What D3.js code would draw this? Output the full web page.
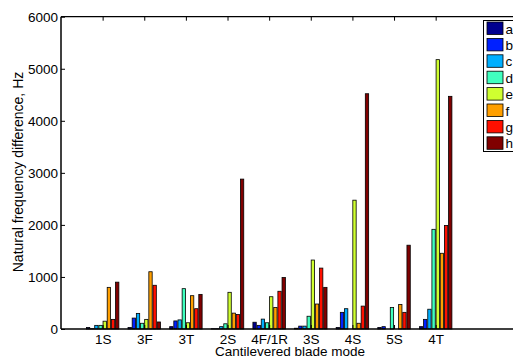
<!DOCTYPE html>
<html>
<head>
<meta charset="utf-8">
<script src="https://cdn.jsdelivr.net/npm/d3@7"></script>
<style>
  html, body { margin: 0; padding: 0; background: #fff; }
  svg { display: block; font-family: "Liberation Sans", Arial, sans-serif; }
</style>
</head>
<body>
<svg id="chart" width="513" height="358"></svg>
<script>
// ---- data ----
const categories = ["1S", "3F", "3T", "2S", "4F/1R", "3S", "4S", "5S", "4T"];
const seriesNames = ["a", "b", "c", "d", "e", "f", "g", "h"];
const seriesA = [30, 30, 45, 5, 130, 15, 30, 30, 45];
const seriesB = [5, 210, 155, 5, 70, 55, 320, 45, 185];
const seriesC = [70, 300, 175, 45, 190, 55, 390, 0, 380];
const seriesD = [70, 110, 775, 100, 120, 245, 0, 415, 1915];
const seriesE = [150, 185, 120, 705, 620, 1325, 2475, 0, 5175];
const seriesF = [800, 1100, 640, 305, 415, 480, 110, 470, 1455];
const seriesG = [185, 840, 390, 280, 725, 1170, 440, 320, 1990];
const seriesH = [900, 135, 665, 2880, 990, 800, 4520, 1610, 4470];
const yTicks = [0, 1000, 2000, 3000, 4000, 5000, 6000];
const colors = ["#00008f", "#0020ff", "#00afff", "#40ffbf", "#cfff30", "#ff9f00", "#ff1000", "#800000"];

const allSeries = [seriesA, seriesB, seriesC, seriesD, seriesE, seriesF, seriesG, seriesH];

// ---- layout ----
const svg = d3.select("#chart");
const FS = 13.5;
const mLeft = 61, mTop = 16.7, mBottom = 329;
const x = d3.scaleLinear().domain([0, 11]).range([mLeft, mLeft + 11 * 41.63]);
const y = d3.scaleLinear().domain([0, 6000]).range([mBottom, mTop]);
const sub = d3.scaleBand().domain(seriesNames).range([-0.4, 0.4]).paddingInner(0.2).paddingOuter(0.1);

// bars
const g = svg.append("g");
allSeries.forEach((vals, si) => {
  const name = seriesNames[si];
  g.selectAll(null)
    .data(vals)
    .enter()
    .append("rect")
    .attr("x", (d, i) => x(i + 1 + sub(name)))
    .attr("width", x(sub.bandwidth()) - x(0))
    .attr("y", d => y(d))
    .attr("height", d => y(0) - y(d))
    .attr("fill", colors[si])
    .attr("stroke", "#000")
    .attr("stroke-width", 0.8);
});

// axes frame
const xEnd = x(11);
svg.append("line").attr("x1", mLeft).attr("x2", xEnd).attr("y1", mBottom).attr("y2", mBottom)
  .attr("stroke", "#000").attr("stroke-width", 1.5);
svg.append("line").attr("x1", mLeft).attr("x2", xEnd).attr("y1", mTop).attr("y2", mTop)
  .attr("stroke", "#000").attr("stroke-width", 1.2);
svg.append("line").attr("x1", mLeft).attr("x2", mLeft).attr("y1", mTop).attr("y2", mBottom)
  .attr("stroke", "#000").attr("stroke-width", 1.5);

// y axis ticks + labels
const yAxis = d3.axisLeft(y).tickValues(yTicks).tickSize(-4).tickPadding(3).tickFormat(d3.format("d"));
const ya = svg.append("g").attr("transform", `translate(${mLeft},0)`).call(yAxis);
ya.select(".domain").remove();
ya.selectAll(".tick line").attr("stroke", "#000");
ya.selectAll(".tick text").attr("font-size", FS).attr("fill", "#000")
  .attr("font-family", "Liberation Sans, Arial, sans-serif");

// x axis ticks + labels
const xIdx = categories.map((c, i) => i + 1);
const xAxis = d3.axisBottom(x).tickValues(xIdx).tickSize(-4).tickPadding(5)
  .tickFormat(d => categories[d - 1]);
const xa = svg.append("g").attr("transform", `translate(0,${mBottom})`).call(xAxis);
xa.select(".domain").remove();
xa.selectAll(".tick line").attr("stroke", "#000");
xa.selectAll(".tick text").attr("font-size", FS).attr("fill", "#000")
  .attr("font-family", "Liberation Sans, Arial, sans-serif");

// top ticks
const xTop = d3.axisTop(x).tickValues(xIdx).tickSize(-4).tickFormat("");
const xt = svg.append("g").attr("transform", `translate(0,${mTop})`).call(xTop);
xt.select(".domain").remove();
xt.selectAll(".tick line").attr("stroke", "#000");

// axis titles
svg.append("text").attr("x", 290).attr("y", 355.5).attr("text-anchor", "middle")
  .attr("font-size", FS).attr("fill", "#000").text("Cantilevered blade mode");
svg.append("text").attr("transform", "translate(23,172) rotate(-90)").attr("text-anchor", "middle")
  .attr("font-size", 14).attr("fill", "#000").text("Natural frequency difference, Hz");

// legend
const lg = svg.append("g");
lg.append("rect").attr("x", 483.5).attr("y", 20.5).attr("width", 40).attr("height", 131)
  .attr("fill", "#fff").attr("stroke", "#000").attr("stroke-width", 1);
seriesNames.forEach((n, i) => {
  const yy = 22 + i * 16.4;
  lg.append("rect").attr("x", 487).attr("y", yy).attr("width", 16).attr("height", 12.5)
    .attr("fill", colors[i]).attr("stroke", "#000").attr("stroke-width", 0.8);
  lg.append("text").attr("x", 505.5).attr("y", yy + 11.5).attr("font-size", FS)
    .attr("fill", "#000").text(n);
});
</script>
</body>
</html>
